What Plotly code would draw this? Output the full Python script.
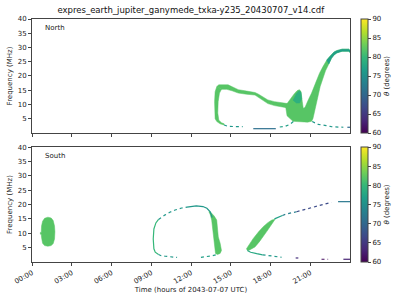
import plotly.graph_objects as go
from plotly.colors import sample_colorscale

# ---------------- data (time in hours, frequency in MHz, theta in degrees) ----------------
TITLE = "expres_earth_jupiter_ganymede_txka-y235_20430707_v14.cdf"
XTICK_VALS = [0, 3, 6, 9, 12, 15, 18, 21]
XTICK_TEXT = ["00:00", "03:00", "06:00", "09:00", "12:00", "15:00", "18:00", "21:00"]
YTICK_VALS = [5, 10, 15, 20, 25, 30, 35, 40]
CB_TICKS = [60, 65, 70, 75, 80, 85, 90]

# North hemisphere: filled emission regions (outline time / freq) and theta value
n_left_t = [13.95, 13.82, 13.78, 13.78, 13.82, 13.95, 14.2, 14.5, 14.5, 14.3, 14.1, 14.02, 14.05, 14.15, 14.3]
n_left_f = [16.3, 14.5, 11.0, 7.0, 5.0, 4.0, 3.2, 2.8, 3.2, 3.6, 4.5, 7.0, 11.0, 14.0, 15.3]
n_left_theta = 82

n_top_t = [13.95, 14.1, 14.8, 15.1, 15.57, 16.2, 16.83, 17.1, 17.45, 17.8, 18.3, 18.8, 19.3,
           19.3, 18.8, 18.3, 17.8, 17.45, 17.1, 16.83, 16.2, 15.57, 15.1, 14.7, 14.3]
n_top_f = [16.3, 16.9, 16.9, 16.2, 15.2, 14.7, 14.2, 13.6, 12.6, 11.6, 11.0, 10.6, 10.3,
           8.8, 9.1, 9.6, 10.3, 11.4, 12.5, 13.3, 13.6, 14.0, 14.8, 15.3, 15.3]
n_top_theta = 82

n_v_t = [19.2, 19.5, 19.8, 20.0, 20.17, 20.3, 20.35, 20.4, 20.47, 20.6, 20.85, 21.1, 21.4, 21.7, 21.95,
         22.25, 22.5, 22.8, 23.0, 23.4, 23.9, 24.0, 24.0, 23.9, 23.4, 23.0, 22.8, 22.6, 22.4, 22.15,
         21.75, 21.5, 21.3, 21.2, 21.1, 20.8, 20.4, 20.0, 19.7, 19.25, 19.15]
n_v_f = [10.0, 12.0, 13.8, 14.8, 15.2, 14.6, 13.4, 11.0, 8.7, 8.9, 11.6, 14.0, 17.5, 21.0, 23.2,
         25.6, 27.0, 28.4, 28.9, 29.4, 29.4, 29.0, 28.3, 28.7, 28.7, 28.1, 27.4, 26.2, 24.2, 21.8,
         16.3, 10.5, 7.0, 5.0, 4.1, 3.8, 3.8, 4.0, 4.1, 6.0, 9.0]
n_v_theta = 82

n_blob_t = [19.7, 19.95, 20.15, 20.3, 20.35, 20.2, 19.95]
n_blob_f = [11.5, 13.8, 14.8, 14.3, 12.0, 10.5, 10.5]
n_blob_theta = 79

n_arc_t = [22.25, 22.5, 22.8, 23.0, 23.4, 23.9, 24.0, 24.0, 23.9, 23.4, 23.0, 22.8, 22.6, 22.4]
n_arc_f = [25.6, 27.0, 28.4, 28.9, 29.4, 29.4, 29.0, 28.3, 28.7, 28.7, 28.1, 27.4, 26.2, 24.2]
n_arc_theta = 77

# North hemisphere: thin emission traces (time, freq, theta, dashed?)
n_lines = [
    ([14.5, 14.8, 15.9], [2.8, 2.3, 2.2], 76, True),
    ([16.7, 18.4], [1.5, 1.5], 71, False),
    ([18.7, 19.1, 19.45, 19.75], [2.1, 2.3, 3.0, 4.1], 77, True),
    ([21.15, 21.6, 22.2, 22.6, 23.5], [4.0, 3.0, 2.6, 2.2, 2.0], 76, True),
    ([23.8, 24.0], [2.0, 2.0], 70, False),
]

# South hemisphere: filled emission regions
s_blob_t = [0.72, 0.8, 0.95, 1.2, 1.45, 1.6, 1.7, 1.73, 1.7, 1.6, 1.45, 1.2, 0.95, 0.8, 0.72, 0.7, 0.63, 0.63, 0.7]
s_blob_f = [12.5, 14.2, 15.2, 15.6, 15.3, 14.4, 12.5, 10.5, 8.0, 6.4, 5.7, 5.5, 5.7, 6.5, 8.5, 9.7, 9.7, 10.3, 10.3]
s_blob_theta = 82

s_rb_t = [13.45, 13.75, 13.94, 14.0, 14.06, 14.2, 14.28, 14.3, 14.2, 14.0, 13.85, 13.82, 13.8, 13.72, 13.65, 13.56, 13.45, 13.35]
s_rb_f = [17.5, 16.0, 14.6, 11.5, 8.7, 6.5, 5.2, 4.0, 3.0, 2.6, 3.0, 4.2, 5.2, 7.0, 10.0, 14.6, 16.5, 17.5]
s_rb_theta = 82

s_b3_t = [16.2, 16.4, 16.7, 17.1, 17.45, 17.8, 18.1, 18.35, 18.2, 17.96, 17.7, 17.45, 17.15, 16.83, 16.55, 16.35, 16.22]
s_b3_f = [4.7, 6.3, 8.2, 10.5, 12.3, 13.7, 14.6, 14.9, 14.0, 12.25, 10.5, 8.75, 7.0, 5.25, 4.4, 4.0, 4.2]
s_b3_theta = 82

# South hemisphere: thin emission traces
s_lines = [
    ([9.55, 9.3, 9.2, 9.15, 9.2, 9.35, 9.55], [2.6, 3.4, 4.6, 8.0, 11.5, 13.6, 14.8], 80, False),
    ([9.55, 9.8, 10.05, 10.4, 10.8, 11.3, 11.7], [14.8, 15.7, 16.4, 17.3, 18.1, 18.8, 19.1], 76, True),
    ([11.7, 12.4, 12.9, 13.2, 13.45, 13.6], [19.1, 19.5, 19.3, 18.7, 17.5, 15.5], 76, False),
    ([9.55, 9.75, 10.05, 10.4, 10.95], [2.6, 2.2, 2.0, 1.8, 1.6], 76, True),
    ([12.75, 13.1, 13.6, 14.0], [1.6, 1.8, 2.2, 2.6], 77, True),
    ([16.25, 16.5, 16.96, 17.4], [4.0, 3.4, 2.9, 2.5], 78, False),
    ([17.4, 17.7, 18.3, 18.84], [2.5, 2.3, 2.0, 1.65], 76, True),
    ([18.3, 18.5, 18.9], [15.0, 15.4, 16.2], 77, False),
    ([18.9, 19.2, 19.97], [16.2, 16.7, 17.5], 73, True),
    ([19.97, 20.7, 21.5, 22.1, 22.6], [17.5, 18.4, 19.5, 20.2, 20.8], 67, True),
    ([23.1, 24.0], [21.0, 21.0], 72, False),
    ([19.9, 20.1], [1.4, 1.4], 64, False),
    ([21.85, 22.35], [0.95, 0.95], 61, True),
    ([23.5, 24.0], [0.95, 0.95], 63, False),
]

# ---------------- drawing ----------------


def vcol(theta):
    return sample_colorscale("Viridis", [(theta - 60) / 30.0])[0]


FONT = "DejaVu Sans"
fig = go.Figure()


def add_poly(t, f, theta, xa, ya):
    c = vcol(theta)
    fig.add_trace(go.Scatter(x=t + [t[0]], y=f + [f[0]], mode="lines", fill="toself",
                             fillcolor=c, line=dict(color=c, width=0.5),
                             xaxis=xa, yaxis=ya, showlegend=False, hoverinfo="skip"))


def add_line(t, f, theta, dashed, xa, ya):
    c = vcol(theta)
    fig.add_trace(go.Scatter(x=t, y=f, mode="lines",
                             line=dict(color=c, width=1.2, dash="3px,3px" if dashed else "solid"),
                             xaxis=xa, yaxis=ya, showlegend=False, hoverinfo="skip"))


# North
add_poly(n_left_t, n_left_f, n_left_theta, "x", "y")
add_poly(n_top_t, n_top_f, n_top_theta, "x", "y")
add_poly(n_v_t, n_v_f, n_v_theta, "x", "y")
add_poly(n_blob_t, n_blob_f, n_blob_theta, "x", "y")
add_poly(n_arc_t, n_arc_f, n_arc_theta, "x", "y")
for t, f, th, d in n_lines:
    add_line(t, f, th, d, "x", "y")

# South
add_poly(s_blob_t, s_blob_f, s_blob_theta, "x2", "y2")
add_poly(s_rb_t, s_rb_f, s_rb_theta, "x2", "y2")
add_poly(s_b3_t, s_b3_f, s_b3_theta, "x2", "y2")
for t, f, th, d in s_lines:
    add_line(t, f, th, d, "x2", "y2")

# colourbar carriers
fig.add_trace(go.Scatter(x=[None], y=[None], mode="markers",
                         marker=dict(color=[60], coloraxis="coloraxis"),
                         xaxis="x", yaxis="y", showlegend=False))
fig.add_trace(go.Scatter(x=[None], y=[None], mode="markers",
                         marker=dict(color=[60], coloraxis="coloraxis2"),
                         xaxis="x2", yaxis="y2", showlegend=False))

TOP_DOM = [0.531, 1.0]
BOT_DOM = [0.0, 0.473]


def cbar(y, yanchor, ln):
    return dict(thickness=7, thicknessmode="pixels", len=ln, lenmode="fraction",
                x=1.035, xanchor="left", xpad=0, y=y, yanchor=yanchor, ypad=0,
                outlinewidth=1, outlinecolor="#444",
                tickvals=CB_TICKS, ticks="outside", ticklen=3, tickcolor="#444",
                tickfont=dict(size=7, family=FONT, color="#222"),
                title=dict(text="<i>θ</i> (degrees)", side="right",
                           font=dict(size=7, family=FONT, color="#222")))


axis_common = dict(showline=True, linecolor="#444", linewidth=1, mirror=True,
                   ticks="outside", ticklen=3, tickcolor="#444", showgrid=False, zeroline=False,
                   automargin=False,
                   tickfont=dict(size=7, family=FONT, color="#222"))

fig.update_layout(
    width=400, height=300,
    margin=dict(l=32, r=50, t=19, b=38, autoexpand=False),
    paper_bgcolor="white", plot_bgcolor="white",
    showlegend=False,
    font=dict(family=FONT, size=7, color="#222"),
    title=dict(text=TITLE, x=0.477, xanchor="center", y=0.965, yanchor="middle",
               font=dict(size=8.5, family=FONT, color="#111")),
    xaxis=dict(domain=[0, 1], anchor="y", range=[0, 24], tickvals=XTICK_VALS,
               showticklabels=False, **axis_common),
    yaxis=dict(domain=TOP_DOM, anchor="x", range=[0, 40], tickvals=YTICK_VALS,
               title=dict(text="Frequency (MHz)", font=dict(size=7, family=FONT), standoff=4),
               **axis_common),
    xaxis2=dict(domain=[0, 1], anchor="y2", range=[0, 24], tickvals=XTICK_VALS,
                ticktext=XTICK_TEXT, tickangle=-30,
                title=dict(text="Time (hours of 2043-07-07 UTC)", font=dict(size=7, family=FONT), standoff=2),
                **axis_common),
    yaxis2=dict(domain=BOT_DOM, anchor="x2", range=[0, 40], tickvals=YTICK_VALS,
                title=dict(text="Frequency (MHz)", font=dict(size=7, family=FONT), standoff=4),
                **axis_common),
    coloraxis=dict(colorscale="Viridis", cmin=60, cmax=90, colorbar=cbar(1.0, "top", 0.469)),
    coloraxis2=dict(colorscale="Viridis", cmin=60, cmax=90, colorbar=cbar(0.0, "bottom", 0.473)),
    annotations=[
        dict(text="North", xref="x domain", yref="y domain", x=0.035, y=0.92,
             xanchor="left", yanchor="middle", showarrow=False, font=dict(size=7, family=FONT, color="#222")),
        dict(text="South", xref="x2 domain", yref="y2 domain", x=0.035, y=0.92,
             xanchor="left", yanchor="middle", showarrow=False, font=dict(size=7, family=FONT, color="#222")),
    ],
)

fig.write_html("out.html")
